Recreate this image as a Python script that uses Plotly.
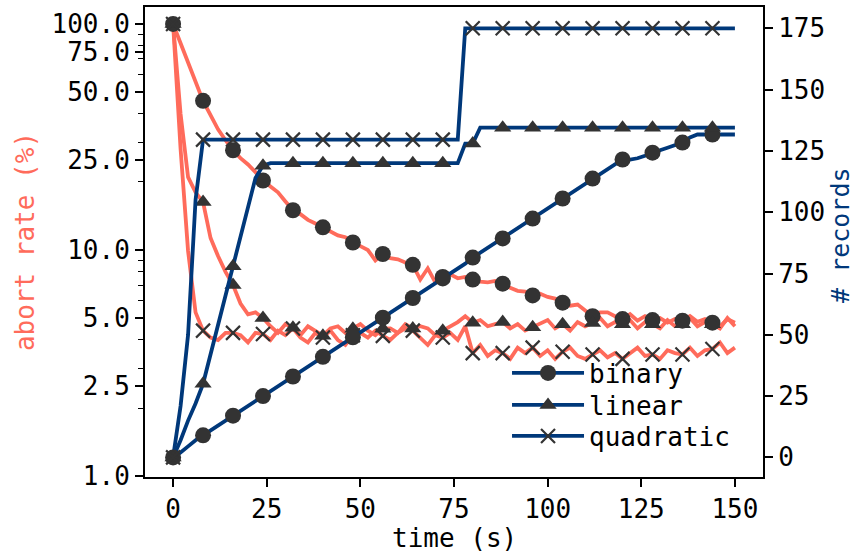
import plotly.graph_objects as go

time_s = list(range(0, 151, 2))

abort_binary = [100, 82.6, 67.8, 55.6, 45.7, 39.5, 34.2, 30.6, 27.6, 25.5,
                23.9, 22.1, 20.3, 19.1, 18.0, 16.4, 15.0, 14.4, 13.6, 13.1,
                12.6, 12.1, 11.6, 11.4, 10.8, 10.4, 10.0, 9.0, 9.6, 9.2,
                9.1, 8.8, 8.6, 7.4, 8.3, 7.2, 7.6, 7.8, 7.5, 7.6,
                7.4, 7.25, 7.2, 7.3, 7.1, 6.8, 6.6, 6.55, 6.3, 6.4,
                6.2, 6.1, 5.85, 5.67, 5.74, 5.4, 5.1, 5.3, 5.3, 5.1,
                4.95, 5.2, 4.87, 5.1, 4.9, 5.0, 4.77, 4.95, 4.87, 5.1,
                4.82, 4.95, 4.77, 4.58, 4.95, 4.77]

abort_linear = [100, 40, 21, 18, 16.3, 11.3, 9.4, 8.0, 7.0, 5.8,
                5.2, 5.3, 5.0, 4.6, 4.3, 4.7, 4.53, 4.2, 4.6, 4.4,
                4.18, 4.5, 4.6, 4.3, 4.49, 4.7, 4.4, 4.2, 4.49, 4.5,
                4.3, 4.7, 4.5, 4.6, 4.5, 4.2, 4.4, 4.6, 4.8, 5.1,
                4.77, 4.9, 4.6, 4.7, 4.8, 4.5, 4.7, 4.4, 4.55, 4.7,
                4.9, 4.5, 4.7, 4.4, 4.8, 4.6, 4.75, 5.0, 4.6, 4.8,
                4.7, 4.9, 4.5, 4.8, 4.7, 4.5, 4.9, 4.6, 4.7, 5.0,
                4.6, 4.8, 4.7, 4.5, 5.0, 4.6]

abort_quadratic = [100, 28, 9.9, 5.3, 4.4, 4.1, 4.0, 4.3, 4.3, 4.2,
                   3.9, 4.3, 4.25, 4.0, 4.4, 4.2, 4.5, 4.1, 3.9, 4.3,
                   4.1, 4.4, 4.0, 3.8, 4.2, 4.3, 4.1, 4.4, 4.17, 4.0,
                   4.3, 4.5, 4.4, 4.1, 3.8, 4.2, 4.1, 4.3, 4.0, 4.6,
                   3.5, 3.8, 3.4, 3.6, 3.5, 3.3, 3.7, 3.5, 3.7, 3.4,
                   3.6, 3.3, 3.55, 3.7, 3.4, 3.3, 3.45, 3.6, 3.35, 3.5,
                   3.3, 3.5, 3.7, 3.4, 3.45, 3.3, 3.6, 3.5, 3.45, 3.7,
                   3.4, 3.6, 3.65, 3.9, 3.5, 3.7]

records_binary = [0, 2, 4.5, 7, 9, 11, 13, 15, 17, 19,
                  21, 23, 25, 27, 29, 31, 33, 35, 37, 39,
                  41, 43, 45, 47, 49, 51, 53, 55, 57, 59,
                  61, 63, 65, 67, 69, 71, 73, 75, 77, 79,
                  81.5, 83.5, 85.5, 87.5, 89.3, 91.5, 93.5, 95.5, 97.4, 99.5,
                  101.5, 103.5, 105.6, 107.5, 109.5, 111.5, 113.7, 115.5, 117.5, 119.5,
                  121.5, 121.5, 122, 123, 124.3, 125.3, 126.3, 127.3, 128.4, 130.5,
                  131.7, 131.7, 131.7, 131.7, 131.7, 131.7]

records_linear = [0, 7, 15, 22, 30, 42, 54, 66, 78, 90,
                  102, 114, 119, 120, 120, 120, 120, 120, 120, 120,
                  120, 120, 120, 120, 120, 120, 120, 120, 120, 120,
                  120, 120, 120, 120, 120, 120, 120, 120, 120, 128,
                  128, 134.5, 134.5, 134.5, 134.5, 134.5, 134.5, 134.5, 134.5, 134.5,
                  134.5, 134.5, 134.5, 134.5, 134.5, 134.5, 134.5, 134.5, 134.5, 134.5,
                  134.5, 134.5, 134.5, 134.5, 134.5, 134.5, 134.5, 134.5, 134.5, 134.5,
                  134.5, 134.5, 134.5, 134.5, 134.5, 134.5]

records_quadratic = [0, 21, 50, 105, 129.6, 129.6, 129.6, 129.6, 129.6, 129.6,
                     129.6, 129.6, 129.6, 129.6, 129.6, 129.6, 129.6, 129.6, 129.6, 129.6,
                     129.6, 129.6, 129.6, 129.6, 129.6, 129.6, 129.6, 129.6, 129.6, 129.6,
                     129.6, 129.6, 129.6, 129.6, 129.6, 129.6, 129.6, 129.6, 129.6, 175,
                     175, 175, 175, 175, 175, 175, 175, 175, 175, 175,
                     175, 175, 175, 175, 175, 175, 175, 175, 175, 175,
                     175, 175, 175, 175, 175, 175, 175, 175, 175, 175,
                     175, 175, 175, 175, 175, 175]

series_names = ["binary", "linear", "quadratic"]
x_ticks = [0, 25, 50, 75, 100, 125, 150]
left_ticks = [1, 2.5, 5, 10, 25, 50, 75, 100]
left_ticktext = ["1.0", "2.5", "5.0", "10.0", "25.0", "50.0", "75.0", "100.0"]
left_minor = [2, 3, 4, 6, 7, 8, 9, 20, 30, 40, 60, 70, 80, 90]
right_ticks = [0, 25, 50, 75, 100, 125, 150, 175]

SALMON = "#FF6B5B"
NAVY = "#00387A"
MARK = "#333333"
FONT = "DejaVu Sans Mono"
FS = 26
LW = 3.8
STEP = 4  # markers every 8 s

symbols = {"binary": "circle", "linear": "triangle-up", "quadratic": "x-thin"}
sizes = {"binary": 16, "linear": 15, "quadratic": 14}

def marker_style(name):
    sym = symbols[name]
    if sym == "x-thin":
        return dict(symbol=sym, size=sizes[name], color=MARK,
                    line=dict(color=MARK, width=2.2))
    return dict(symbol=sym, size=sizes[name], color=MARK, line=dict(width=0))

abort = {"binary": abort_binary, "linear": abort_linear, "quadratic": abort_quadratic}
records = {"binary": records_binary, "linear": records_linear, "quadratic": records_quadratic}
legend_ids = {"binary": "legend", "linear": "legend2", "quadratic": "legend3"}

fig = go.Figure()

for name in series_names:
    fig.add_trace(go.Scatter(x=time_s, y=abort[name], mode="lines",
                             line=dict(color=SALMON, width=LW),
                             showlegend=False, hoverinfo="skip"))
for name in series_names:
    fig.add_trace(go.Scatter(x=time_s[::STEP], y=abort[name][::STEP], mode="markers",
                             marker=marker_style(name), showlegend=False))
for name in series_names:
    fig.add_trace(go.Scatter(x=time_s, y=records[name], mode="lines", yaxis="y2",
                             line=dict(color=NAVY, width=LW),
                             showlegend=False, hoverinfo="skip"))
for name in series_names:
    fig.add_trace(go.Scatter(x=time_s[::STEP], y=records[name][::STEP], mode="markers",
                             yaxis="y2", marker=marker_style(name), showlegend=False))
for name in series_names:
    fig.add_trace(go.Scatter(x=[None], y=[None], mode="lines+markers", name=name,
                             yaxis="y2", line=dict(color=NAVY, width=LW),
                             marker=marker_style(name), legend=legend_ids[name]))

axis_common = dict(showgrid=False, zeroline=False, ticks="outside", ticklen=8,
                   tickwidth=1.5, tickcolor="black", showline=True, linewidth=2,
                   linecolor="black", automargin=False,
                   tickfont=dict(family=FONT, size=FS, color="black"))

def legend_box(ypos):
    return dict(x=0.5858, y=ypos, xanchor="left", yanchor="middle",
                bgcolor="rgba(0,0,0,0)", borderwidth=0, itemwidth=72,
                font=dict(family=FONT, size=FS, color="black"))

fig.update_layout(
    width=858, height=553, autosize=False,
    margin=dict(l=145, r=95, t=7, b=76),
    paper_bgcolor="white", plot_bgcolor="white",
    font=dict(family=FONT, size=FS, color="black"),
    xaxis=dict(range=[-7.5, 157.5], tickvals=x_ticks, mirror=True, **axis_common),
    yaxis=dict(type="log", range=[-0.004, 2.075], tickvals=left_ticks,
               ticktext=left_ticktext, mirror=True,
               minor=dict(tickvals=left_minor, ticklen=5, tickwidth=1.2,
                          tickcolor="black", ticks="outside"),
               **axis_common),
    yaxis2=dict(overlaying="y", side="right", range=[-8, 183.7], tickvals=right_ticks,
                **axis_common),
    legend=legend_box(0.2213),
    legend2=legend_box(0.1532),
    legend3=legend_box(0.0872),
    annotations=[
        dict(text="time (s)", xref="paper", yref="paper", x=0.5, y=-0.13,
             xanchor="center", yanchor="middle", showarrow=False,
             font=dict(family=FONT, size=FS, color="black")),
        dict(text="abort rate (%)", xref="paper", yref="paper", x=-0.194, y=0.5,
             xanchor="center", yanchor="middle", textangle=-90, showarrow=False,
             font=dict(family=FONT, size=FS, color=SALMON)),
        dict(text="# records", xref="paper", yref="paper", x=1.1262, y=0.515,
             xanchor="center", yanchor="middle", textangle=-90, showarrow=False,
             font=dict(family=FONT, size=25, color=NAVY)),
    ],
)

fig.write_html("out.html",
               config={"displayModeBar": False},
               post_script="document.documentElement.style.margin='0';"
                           "document.body.style.margin='0';"
                           "document.body.style.overflow='hidden';")
